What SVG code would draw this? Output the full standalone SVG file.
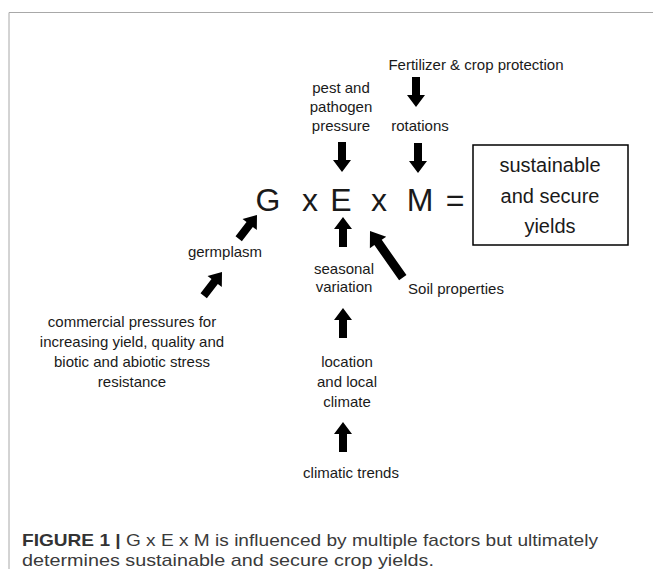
<svg xmlns="http://www.w3.org/2000/svg" xmlns:xlink="http://www.w3.org/1999/xlink" width="653" height="569" viewBox="0 0 653 569">
<style>
.t{font-family:"Liberation Sans",Arial,sans-serif;fill:#1a1a1a;text-anchor:middle}
.m{font-size:15px}
.b{font-size:32px}
.y{font-size:20px}
.cap{font-family:"Liberation Sans",Arial,sans-serif;font-size:17px;fill:#3a3a3a}
.arr{fill:#000}
.frame{stroke:#a8a8a8;stroke-width:1;fill:none}
</style>
<defs>
<path id="arr" class="arr" d="M0,0 L-9,-12 L-4,-12 L-4,-30 L4,-30 L4,-12 L9,-12 Z"/>
<path id="arrL" class="arr" d="M0,0 L-10,-14 L-4.5,-14 L-4.5,-57 L4.5,-57 L4.5,-14 L10,-14 Z"/>
</defs>
<path class="frame" d="M9,569 L9,12.5 L653,12.5"/>

<g id="fertilizer"><text class="t m" x="476" y="70">Fertilizer &amp; crop protection</text></g>
<g id="pest"><text class="t m" x="341" y="93">pest and</text><text class="t m" x="341" y="112">pathogen</text><text class="t m" x="341" y="131">pressure</text></g>
<g id="rotations"><text class="t m" x="420" y="131">rotations</text></g>

<g id="gxexm">
<text class="t b" x="268" y="211">G</text>
<text class="t b" x="310" y="211">x</text>
<text class="t b" x="341" y="211">E</text>
<text class="t b" x="379" y="211">x</text>
<text class="t b" x="420" y="211">M</text>
<text class="t b" x="455" y="211">=</text>
</g>

<g id="yields">
<rect x="473" y="145" width="155" height="100" fill="#fff" stroke="#000" stroke-width="1.5"/>
<text class="t y" x="550" y="172">sustainable</text>
<text class="t y" x="550" y="203">and secure</text>
<text class="t y" x="550" y="233">yields</text>
</g>

<g id="germplasm"><text class="t m" x="225" y="257">germplasm</text></g>
<g id="seasonal"><text class="t m" x="344" y="274">seasonal</text><text class="t m" x="344" y="292">variation</text></g>
<g id="soil"><text class="t m" x="456" y="294">Soil properties</text></g>
<g id="location"><text class="t m" x="347" y="367">location</text><text class="t m" x="347" y="387">and local</text><text class="t m" x="347" y="407">climate</text></g>
<g id="climatic"><text class="t m" x="351" y="478">climatic trends</text></g>
<g id="commercial">
<text class="t m" x="132" y="327">commercial pressures for</text>
<text class="t m" x="132" y="347">increasing yield, quality and</text>
<text class="t m" x="132" y="367">biotic and abiotic stress</text>
<text class="t m" x="132" y="387">resistance</text>
</g>

<g id="connectors">
<use xlink:href="#arr" transform="translate(416,107)"/>
<use xlink:href="#arr" transform="translate(342,172)"/>
<use xlink:href="#arr" transform="translate(418,173)"/>
<use xlink:href="#arr" transform="translate(343,217) rotate(180)"/>
<use xlink:href="#arr" transform="translate(343,308) rotate(180)"/>
<use xlink:href="#arr" transform="translate(343,422) rotate(180)"/>
<use xlink:href="#arr" transform="translate(257,215) rotate(-142.4)"/>
<use xlink:href="#arr" transform="translate(222,272) rotate(-142.4)"/>
<use xlink:href="#arrL" transform="translate(370,231) rotate(144.9)"/>
</g>

<g id="caption">
<text class="cap" x="22" y="546" textLength="576" lengthAdjust="spacingAndGlyphs"><tspan font-weight="bold" fill="#333">FIGURE 1 |</tspan> G x E x M is influenced by multiple factors but ultimately</text>
<text class="cap" x="22" y="566" textLength="412" lengthAdjust="spacingAndGlyphs">determines sustainable and secure crop yields.</text>
</g>
</svg>
